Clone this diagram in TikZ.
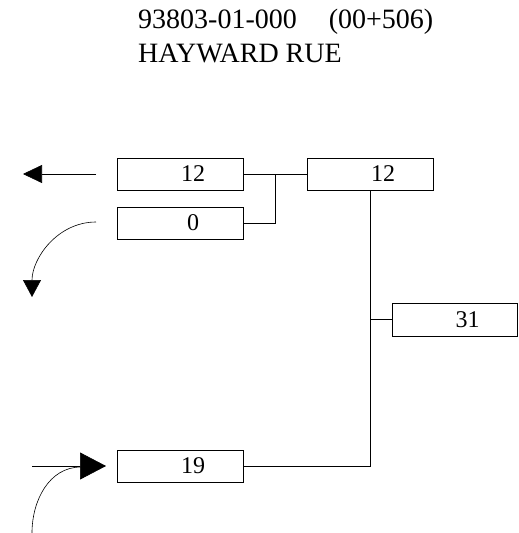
\documentclass[tikz,border=0pt]{standalone}
\usepackage{fontspec}
\setmainfont{Liberation Serif}
\usetikzlibrary{arrows.meta}

\tikzset{
  cell/.style={draw,line width=0.9pt,minimum width=126pt,minimum height=32pt,inner sep=0pt,
    font=\fontsize{24}{28}\selectfont,execute at begin node={\hspace*{26pt}}},
  wire/.style={line width=0.9pt},
  turn/.style={line width=0.6pt}
}

\begin{document}
\begin{tikzpicture}[x=1pt,y=-1pt]
  \useasboundingbox (0,0) rectangle (519,533);

  % heading
  \node[anchor=base west,align=left,inner sep=0pt,font=\fontsize{28}{34}\selectfont] (title) at (138,62)
    {93803-01-000\hspace{32pt}(00+506)\\HAYWARD RUE};

  % approach boxes
  \node[cell] (nbl) at (180,174) {12};
  \node[cell] (nbr) at (180,223) {0};
  \node[cell] (sbt) at (180,466) {19};
  \node[cell] (tot) at (370,174) {12};
  \node[cell,minimum width=125pt,minimum height=33pt] (leg) at (454.5,319.5) {31};

  % tie lines
  \coordinate (jn) at (275,174);
  \draw[wire] (nbl.east) -- (tot.west);
  \draw[wire] (nbr.east) -| (jn);
  \draw[wire] (sbt.east) -| (tot.south);
  \draw[wire] (leg.west) -- (leg.west -| tot.south);

  % movement arrows
  \coordinate (wa) at (96,174);
  \coordinate (wb) at (23,174);
  \draw[turn,-{Triangle[length=19pt,width=18pt]}] (wa) -- (wb);
  \coordinate (ra) at (96,222);
  \coordinate (rb) at (32,297);
  \draw[turn,-{Triangle[length=17pt,width=18pt]}] (ra) to[out=180,in=90] (rb);
  \coordinate (ta) at (32,466);
  \coordinate (tb) at (106,466);
  \draw[turn,-{Triangle[length=26pt,width=27pt]}] (ta) -- (tb);
  \coordinate (ua) at (32,533);
  \coordinate (ub) at (81,467);
  \draw[turn] (ua) to[out=-90+180,in=180] (ub);
\end{tikzpicture}
\end{document}
